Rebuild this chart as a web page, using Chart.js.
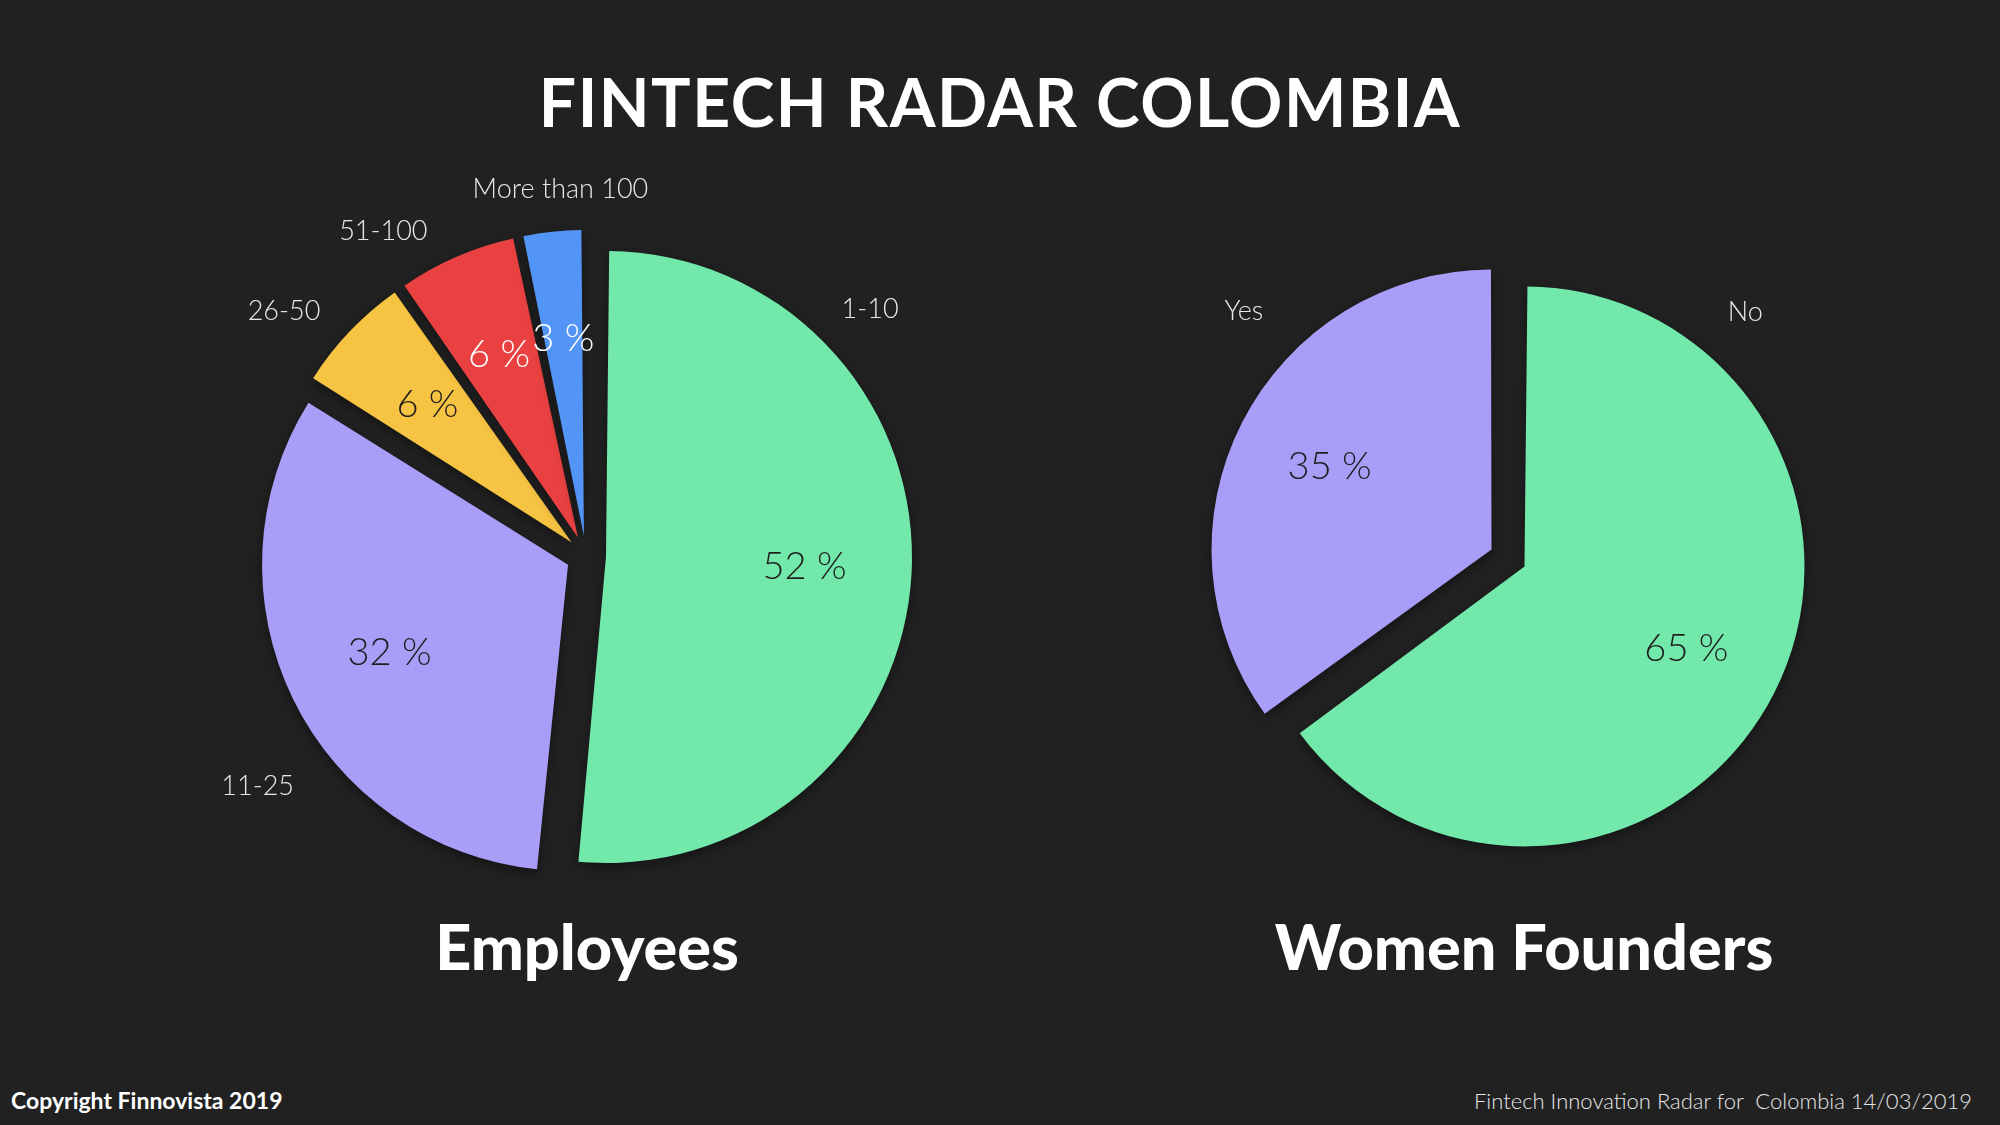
<!DOCTYPE html>
<html>
<head>
<meta charset="utf-8">
<script src="https://cdn.jsdelivr.net/npm/chart.js@4/dist/chart.umd.min.js"></script>
<style>
  html, body { margin: 0; padding: 0; background: #212121; }
  body { width: 2000px; height: 1125px; position: relative; overflow: hidden; font-family: Lato, "Open Sans", sans-serif; color: #fff; }
  .title { position: absolute; left: 0; width: 2000px; top: 62px; text-align: center; font-size: 66px; font-weight: 700; letter-spacing: 1.5px; }
  .sub { position: absolute; font-size: 63px; font-weight: 900; text-align: center; width: 700px; top: 908px; }
  .box { position: absolute; width: 800px; height: 800px; }
  .footL { position: absolute; left: 11px; top: 1086px; font-size: 23px; font-weight: 700; }
  .footR { position: absolute; right: 28px; top: 1087px; font-size: 22px; font-weight: 300; color: #e6e6e6; }
</style>
</head>
<body>
<div class="title">FINTECH RADAR COLOMBIA</div>
<div class="box" style="left:186px; top:156px;"><canvas id="employees"></canvas></div>
<div class="box" style="left:1108px; top:158px;"><canvas id="women"></canvas></div>
<div class="sub" style="left:237px;">Employees</div>
<div class="sub" style="left:1174px;">Women Founders</div>
<div class="footL">Copyright Finnovista 2019</div>
<div class="footR">Fintech Innovation Radar for &nbsp;Colombia 14/03/2019</div>
<script>
// Employees
const employeeLabels = ['1-10', '11-25', '26-50', '51-100', 'More than 100'];
const employeeValues = [51.6, 32.3, 6.4, 6.4, 3.3];
const employeeColors = ['#72e8ab', '#a89ef8', '#f6c343', '#e94141', '#5394f7'];
const employeePctColors = ['#1e1e1e', '#1e1e1e', '#1e1e1e', '#ffffff', '#ffffff'];
// label placement: angle clockwise from top, distance as share of radius
const employeeLabelAngles = [49, 235, 309, 328, 356];
const employeeLabelDist = [1.23, 1.31, 1.27, 1.25, 1.2];

// Women founders
const founderLabels = ['No', 'Yes'];
const founderValues = [65, 35];
const founderColors = ['#72e8ab', '#a89ef8'];
const founderPctColors = ['#1e1e1e', '#1e1e1e'];
const founderLabelAngles = [44, 313];
const founderLabelDist = [1.22, 1.29];

// Chart.js grows an offset arc's radius (by offset * fix); undo that so
// every exploded slice keeps the same radius, like the original slide
const evenRadius = {
  id: 'evenRadius',
  beforeDatasetsDraw(chart, args, opts) {
    chart.getDatasetMeta(0).data.forEach(arc => {
      const shift = (arc.options.offset || 0) / 4;
      const fix = 1 - Math.sin(Math.min(Math.PI, arc.circumference || 0));
      arc.outerRadius = opts.radius - shift * fix;
    });
  }
};

const sliceShadow = {
  id: 'sliceShadow',
  beforeDatasetsDraw(chart) {
    const ctx = chart.ctx;
    ctx.save();
    ctx.shadowColor = 'rgba(0,0,0,0.4)';
    ctx.shadowBlur = 12;
    ctx.shadowOffsetY = 4;
  },
  afterDatasetsDraw(chart) {
    chart.ctx.restore();
  }
};

const sliceText = {
  id: 'sliceText',
  afterDraw(chart, args, opts) {
    const ctx = chart.ctx;
    const meta = chart.getDatasetMeta(0);
    const values = chart.data.datasets[0].data;
    const total = values.reduce((a, b) => a + b, 0);
    ctx.save();
    ctx.textAlign = 'center';
    ctx.textBaseline = 'middle';
    meta.data.forEach((arc, i) => {
      const p = arc.getProps(['x', 'y', 'startAngle', 'endAngle'], true);
      const mid = (p.startAngle + p.endAngle) / 2;
      const r = opts.baseRadius;
      // percentage inside the slice
      ctx.font = '300 38px Lato';
      ctx.fillStyle = opts.pctColors[i];
      const pct = Math.round(values[i] / total * 100) + ' %';
      ctx.fillText(pct, p.x + Math.cos(mid) * r * 0.715, p.y + Math.sin(mid) * r * 0.715);
      // category name outside
      const a = (opts.angles[i] - 90) * Math.PI / 180;
      const d = r * opts.dist[i];
      ctx.font = '300 27px Lato';
      ctx.fillStyle = '#e8e8e8';
      ctx.fillText(chart.data.labels[i], p.x + Math.cos(a) * d, p.y + Math.sin(a) * d);
    });
    ctx.restore();
  }
};

function makePie(id, labels, values, colors, radius, shift, pctColors, angles, dist) {
  const ctx = document.getElementById(id).getContext('2d');
  return new Chart(ctx, {
    type: 'pie',
    data: {
      labels: labels,
      datasets: [{
        data: values,
        backgroundColor: colors,
        borderWidth: 0,
        offset: shift * 4, // the arc element quarters this value
        hoverOffset: 0
      }]
    },
    options: {
      responsive: true,
      maintainAspectRatio: false,
      animation: false,
      radius: radius,
      layout: { padding: 0 },
      plugins: {
        legend: { display: false },
        tooltip: { enabled: false },
        evenRadius: { radius: radius },
        sliceText: { pctColors: pctColors, angles: angles, dist: dist, baseRadius: radius }
      }
    },
    plugins: [evenRadius, sliceShadow, sliceText]
  });
}

makePie('employees', employeeLabels, employeeValues, employeeColors, 306, 20,
  employeePctColors, employeeLabelAngles, employeeLabelDist);
makePie('women', founderLabels, founderValues, founderColors, 280, 18.5,
  founderPctColors, founderLabelAngles, founderLabelDist);
</script>
</body>
</html>
